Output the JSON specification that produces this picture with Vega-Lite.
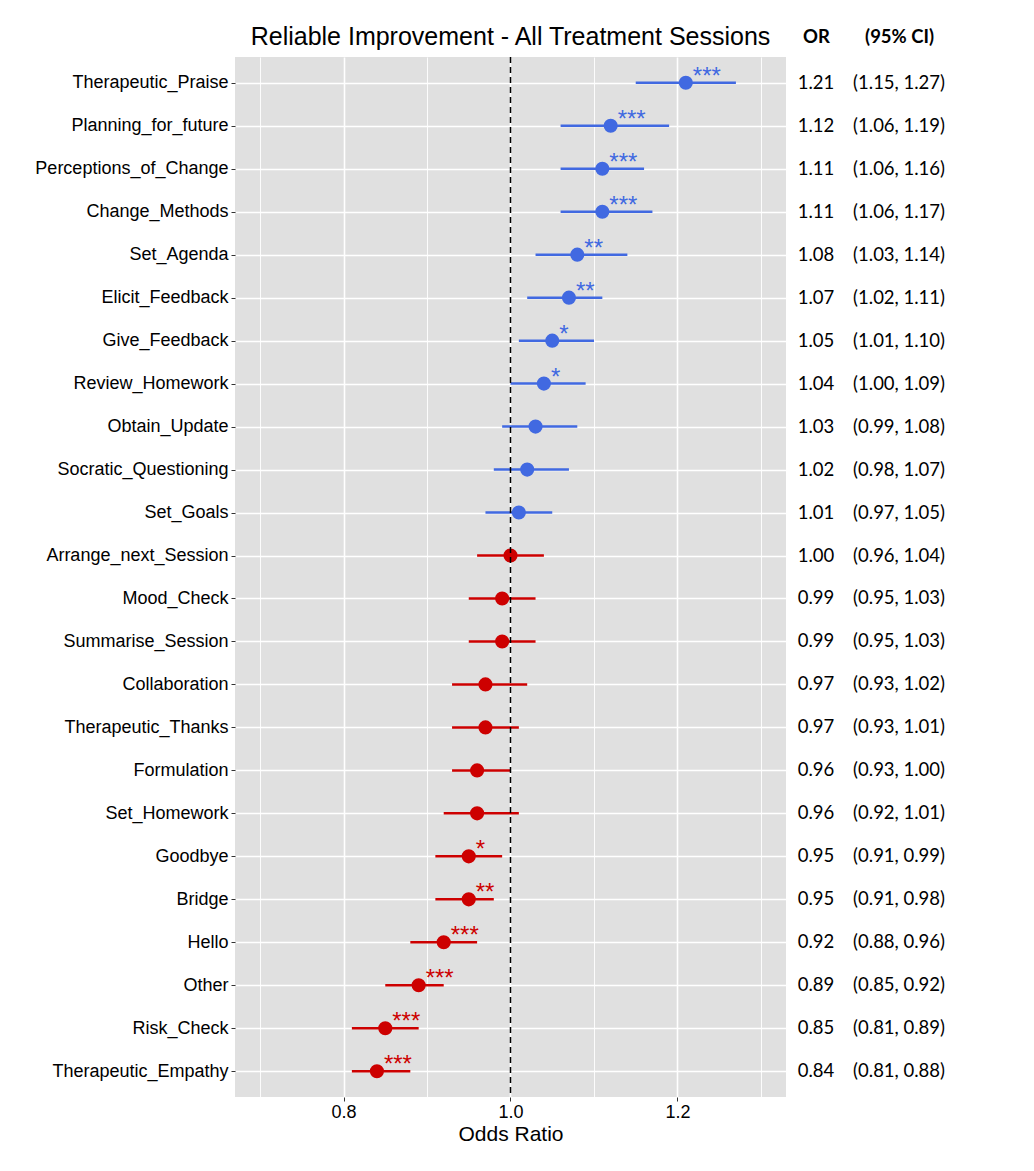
{
  "$schema": "https://vega.github.io/schema/vega-lite/v6.json",
  "padding": {"left": 34, "top": 25, "right": 5, "bottom": 5},
  "background": "white",
  "spacing": 5,
  "config": {"view": {"stroke": null}, "font": "Liberation Sans"},
  "datasets": {
    "rows": [
      {"label": "Therapeutic_Praise", "or": 1.21, "lo": 1.15, "hi": 1.27, "ci": "(1.15, 1.27)", "stars": "***", "effect": "positive"},
      {"label": "Planning_for_future", "or": 1.12, "lo": 1.06, "hi": 1.19, "ci": "(1.06, 1.19)", "stars": "***", "effect": "positive"},
      {"label": "Perceptions_of_Change", "or": 1.11, "lo": 1.06, "hi": 1.16, "ci": "(1.06, 1.16)", "stars": "***", "effect": "positive"},
      {"label": "Change_Methods", "or": 1.11, "lo": 1.06, "hi": 1.17, "ci": "(1.06, 1.17)", "stars": "***", "effect": "positive"},
      {"label": "Set_Agenda", "or": 1.08, "lo": 1.03, "hi": 1.14, "ci": "(1.03, 1.14)", "stars": "**", "effect": "positive"},
      {"label": "Elicit_Feedback", "or": 1.07, "lo": 1.02, "hi": 1.11, "ci": "(1.02, 1.11)", "stars": "**", "effect": "positive"},
      {"label": "Give_Feedback", "or": 1.05, "lo": 1.01, "hi": 1.10, "ci": "(1.01, 1.10)", "stars": "*", "effect": "positive"},
      {"label": "Review_Homework", "or": 1.04, "lo": 1.00, "hi": 1.09, "ci": "(1.00, 1.09)", "stars": "*", "effect": "positive"},
      {"label": "Obtain_Update", "or": 1.03, "lo": 0.99, "hi": 1.08, "ci": "(0.99, 1.08)", "stars": "", "effect": "positive"},
      {"label": "Socratic_Questioning", "or": 1.02, "lo": 0.98, "hi": 1.07, "ci": "(0.98, 1.07)", "stars": "", "effect": "positive"},
      {"label": "Set_Goals", "or": 1.01, "lo": 0.97, "hi": 1.05, "ci": "(0.97, 1.05)", "stars": "", "effect": "positive"},
      {"label": "Arrange_next_Session", "or": 1.00, "lo": 0.96, "hi": 1.04, "ci": "(0.96, 1.04)", "stars": "", "effect": "negative"},
      {"label": "Mood_Check", "or": 0.99, "lo": 0.95, "hi": 1.03, "ci": "(0.95, 1.03)", "stars": "", "effect": "negative"},
      {"label": "Summarise_Session", "or": 0.99, "lo": 0.95, "hi": 1.03, "ci": "(0.95, 1.03)", "stars": "", "effect": "negative"},
      {"label": "Collaboration", "or": 0.97, "lo": 0.93, "hi": 1.02, "ci": "(0.93, 1.02)", "stars": "", "effect": "negative"},
      {"label": "Therapeutic_Thanks", "or": 0.97, "lo": 0.93, "hi": 1.01, "ci": "(0.93, 1.01)", "stars": "", "effect": "negative"},
      {"label": "Formulation", "or": 0.96, "lo": 0.93, "hi": 1.00, "ci": "(0.93, 1.00)", "stars": "", "effect": "negative"},
      {"label": "Set_Homework", "or": 0.96, "lo": 0.92, "hi": 1.01, "ci": "(0.92, 1.01)", "stars": "", "effect": "negative"},
      {"label": "Goodbye", "or": 0.95, "lo": 0.91, "hi": 0.99, "ci": "(0.91, 0.99)", "stars": "*", "effect": "negative"},
      {"label": "Bridge", "or": 0.95, "lo": 0.91, "hi": 0.98, "ci": "(0.91, 0.98)", "stars": "**", "effect": "negative"},
      {"label": "Hello", "or": 0.92, "lo": 0.88, "hi": 0.96, "ci": "(0.88, 0.96)", "stars": "***", "effect": "negative"},
      {"label": "Other", "or": 0.89, "lo": 0.85, "hi": 0.92, "ci": "(0.85, 0.92)", "stars": "***", "effect": "negative"},
      {"label": "Risk_Check", "or": 0.85, "lo": 0.81, "hi": 0.89, "ci": "(0.81, 0.89)", "stars": "***", "effect": "negative"},
      {"label": "Therapeutic_Empathy", "or": 0.84, "lo": 0.81, "hi": 0.88, "ci": "(0.81, 0.88)", "stars": "***", "effect": "negative"}
    ]
  },
  "data": {"name": "rows"},
  "hconcat": [
    {
      "width": 551,
      "height": 1040,
      "view": {"fill": "#E0E0E0", "stroke": null},
      "title": {"text": "Reliable Improvement - All Treatment Sessions", "fontSize": 25, "font": "Liberation Sans", "fontWeight": "normal", "anchor": "middle", "offset": -14, "baseline": "alphabetic", "color": "#000000"},
      "layer": [
        {
          "mark": {"type": "rule", "strokeWidth": 2.5},
          "encoding": {
            "y": {"field": "label", "type": "nominal",
              "scale": {"type": "point", "padding": 0.6, "domain": ["Therapeutic_Praise","Planning_for_future","Perceptions_of_Change","Change_Methods","Set_Agenda","Elicit_Feedback","Give_Feedback","Review_Homework","Obtain_Update","Socratic_Questioning","Set_Goals","Arrange_next_Session","Mood_Check","Summarise_Session","Collaboration","Therapeutic_Thanks","Formulation","Set_Homework","Goodbye","Bridge","Hello","Other","Risk_Check","Therapeutic_Empathy"]},
              "axis": {"title": null, "labelFontSize": 18, "labelColor": "#000000", "labelFont": "Liberation Sans", "tickColor": "#333333", "tickSize": 4, "tickWidth": 1, "labelPadding": 3, "domain": false, "grid": true, "gridColor": "#FFFFFF", "gridWidth": 1.6, "minExtent": 0, "maxExtent": 300, "labelLimit": 400}},
            "x": {"field": "lo", "type": "quantitative",
              "scale": {"domain": [0.67, 1.33], "nice": false, "zero": false},
              "axis": {"orient": "top", "values": [0.7, 0.9, 1.1, 1.3], "labels": false, "ticks": false, "domain": false, "grid": true, "gridColor": "#FFFFFF", "gridWidth": 0.9, "title": null, "minExtent": 0, "maxExtent": 0}},
            "x2": {"field": "hi"},
            "color": {"field": "effect", "type": "nominal", "scale": {"domain": ["positive", "negative"], "range": ["#4169E1", "#CD0000"]}, "legend": null}
          }
        },
        {
          "mark": {"type": "circle", "size": 200, "opacity": 1},
          "encoding": {
            "y": {"field": "label", "type": "nominal"},
            "x": {"field": "or", "type": "quantitative",
              "axis": {"orient": "bottom", "values": [0.8, 1.0, 1.2], "format": ".1f", "labelFont": "Liberation Sans", "labelFontSize": 18, "labelColor": "#000000", "tickColor": "#333333", "tickSize": 4, "labelPadding": 2, "domain": false, "grid": true, "gridColor": "#FFFFFF", "gridWidth": 1.6, "title": "Odds Ratio", "titleFont": "Liberation Sans", "titleFontSize": 21, "titleFontWeight": "normal", "titleColor": "#000000", "titlePadding": 2}},
            "color": {"field": "effect", "type": "nominal", "legend": null}
          }
        },
        {
          "mark": {"type": "text", "align": "left", "dx": 7, "dy": 1, "fontSize": 24, "baseline": "alphabetic"},
          "encoding": {
            "y": {"field": "label", "type": "nominal"},
            "x": {"field": "or", "type": "quantitative", "axis": null},
            "text": {"field": "stars"},
            "color": {"field": "effect", "type": "nominal", "legend": null}
          }
        },
        {
          "data": {"values": [{"ref": 1}]},
          "mark": {"type": "rule", "strokeDash": [6, 4], "strokeWidth": 1.5, "color": "#000000"},
          "encoding": {
            "x": {"field": "ref", "type": "quantitative", "axis": null}
          }
        }
      ]
    },
    {
      "width": 133,
      "height": 1040,
      "encoding": {
        "y": {"field": "label", "type": "nominal",
          "scale": {"type": "point", "padding": 0.6, "domain": ["Therapeutic_Praise","Planning_for_future","Perceptions_of_Change","Change_Methods","Set_Agenda","Elicit_Feedback","Give_Feedback","Review_Homework","Obtain_Update","Socratic_Questioning","Set_Goals","Arrange_next_Session","Mood_Check","Summarise_Session","Collaboration","Therapeutic_Thanks","Formulation","Set_Homework","Goodbye","Bridge","Hello","Other","Risk_Check","Therapeutic_Empathy"]},
          "axis": null}
      },
      "layer": [
        {
          "mark": {"type": "text", "font": "Lato", "fontSize": 18.5, "color": "#000000", "baseline": "middle"},
          "encoding": {
            "x": {"datum": "OR", "type": "nominal",
              "scale": {"type": "point", "padding": 0.3, "domain": ["OR", "(95% CI)"]},
              "axis": {"orient": "top", "domain": false, "ticks": false, "tickSize": 0, "labelFont": "Lato", "labelFontWeight": "bold", "labelFontSize": 18.5, "labelAngle": 0, "labelBaseline": "alphabetic", "labelPadding": 15, "title": null, "grid": false, "labelColor": "#000000"}},
            "text": {"field": "or", "type": "quantitative", "format": ".2f"}
          }
        },
        {
          "mark": {"type": "text", "font": "Lato", "fontSize": 18.5, "color": "#000000", "baseline": "middle"},
          "encoding": {
            "x": {"datum": "(95% CI)", "type": "nominal"},
            "text": {"field": "ci"}
          }
        }
      ]
    }
  ]
}
